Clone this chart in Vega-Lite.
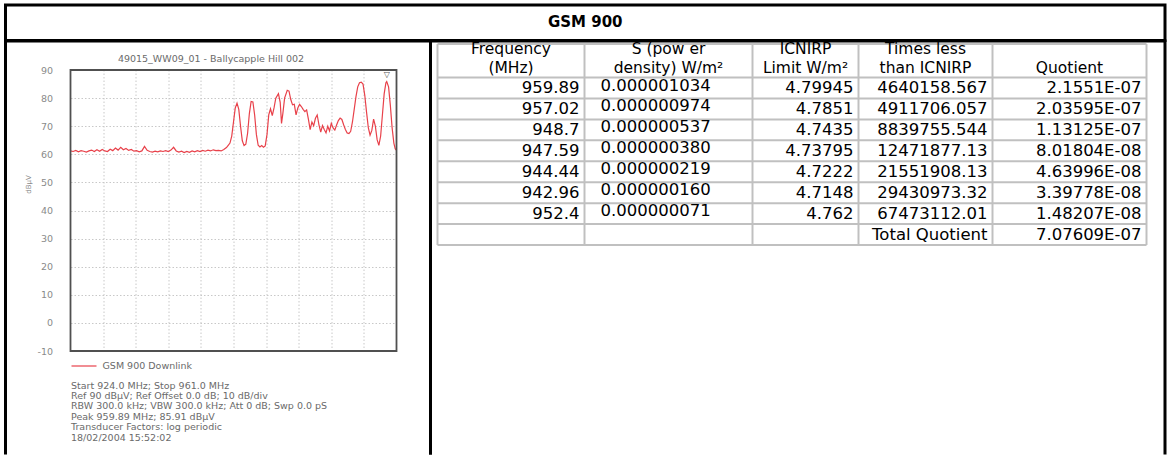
{
  "$schema": "https://vega.github.io/schema/vega-lite/v6.json",
  "padding": {"left": 3.5, "top": 3, "right": 3, "bottom": 0},
  "spacing": 0,
  "bounds": "flush",
  "config": {
    "font": "DejaVu Sans",
    "view": {"stroke": null},
    "text": {"font": "DejaVu Sans"}
  },
  "datasets": {
    "title": [{"label": "GSM 900"}],
    "trace": [
      {"freq": 924.0, "db": 61.2}, {"freq": 924.3, "db": 61.0}, {"freq": 924.6, "db": 61.4}, {"freq": 924.9, "db": 60.9},
      {"freq": 925.2, "db": 61.3}, {"freq": 925.5, "db": 61.1}, {"freq": 925.8, "db": 60.8}, {"freq": 926.1, "db": 61.2},
      {"freq": 926.4, "db": 61.5}, {"freq": 926.7, "db": 61.0}, {"freq": 927.0, "db": 61.6}, {"freq": 927.3, "db": 61.1},
      {"freq": 927.6, "db": 61.7}, {"freq": 927.9, "db": 61.2}, {"freq": 928.2, "db": 61.0}, {"freq": 928.5, "db": 61.8},
      {"freq": 928.8, "db": 61.3}, {"freq": 929.1, "db": 62.2}, {"freq": 929.4, "db": 61.5}, {"freq": 929.7, "db": 62.5},
      {"freq": 930.0, "db": 61.6}, {"freq": 930.3, "db": 62.1}, {"freq": 930.6, "db": 61.4}, {"freq": 930.9, "db": 61.7},
      {"freq": 931.2, "db": 61.1}, {"freq": 931.5, "db": 61.3}, {"freq": 931.8, "db": 60.9}, {"freq": 932.1, "db": 61.2},
      {"freq": 932.4, "db": 62.8}, {"freq": 932.7, "db": 61.4}, {"freq": 933.0, "db": 61.0}, {"freq": 933.3, "db": 60.8},
      {"freq": 933.6, "db": 61.1}, {"freq": 933.9, "db": 60.9}, {"freq": 934.2, "db": 61.2}, {"freq": 934.5, "db": 61.0},
      {"freq": 934.8, "db": 61.3}, {"freq": 935.1, "db": 61.0}, {"freq": 935.4, "db": 61.5}, {"freq": 935.7, "db": 62.5},
      {"freq": 936.0, "db": 61.2}, {"freq": 936.3, "db": 60.8}, {"freq": 936.6, "db": 61.1}, {"freq": 936.9, "db": 60.6},
      {"freq": 937.2, "db": 61.0}, {"freq": 937.5, "db": 60.7}, {"freq": 937.8, "db": 61.2}, {"freq": 938.1, "db": 60.9},
      {"freq": 938.4, "db": 61.3}, {"freq": 938.7, "db": 61.0}, {"freq": 939.0, "db": 61.4}, {"freq": 939.3, "db": 61.1},
      {"freq": 939.6, "db": 61.5}, {"freq": 939.9, "db": 61.2}, {"freq": 940.2, "db": 61.6}, {"freq": 940.5, "db": 61.3},
      {"freq": 940.8, "db": 61.4}, {"freq": 941.1, "db": 61.2}, {"freq": 941.4, "db": 61.7}, {"freq": 941.7, "db": 62.4},
      {"freq": 941.9, "db": 63.2}, {"freq": 942.1, "db": 64.0}, {"freq": 942.3, "db": 66.5}, {"freq": 942.5, "db": 71.5},
      {"freq": 942.7, "db": 76.5}, {"freq": 942.9, "db": 78.2}, {"freq": 943.1, "db": 76.0}, {"freq": 943.3, "db": 70.0},
      {"freq": 943.5, "db": 64.8}, {"freq": 943.7, "db": 63.1}, {"freq": 943.9, "db": 63.6}, {"freq": 944.1, "db": 67.5},
      {"freq": 944.3, "db": 74.5}, {"freq": 944.5, "db": 78.8}, {"freq": 944.7, "db": 78.6}, {"freq": 944.9, "db": 74.0},
      {"freq": 945.1, "db": 67.0}, {"freq": 945.3, "db": 63.2}, {"freq": 945.5, "db": 62.6}, {"freq": 945.7, "db": 63.1},
      {"freq": 945.9, "db": 62.5}, {"freq": 946.1, "db": 63.0}, {"freq": 946.3, "db": 67.0}, {"freq": 946.5, "db": 74.0},
      {"freq": 946.7, "db": 76.2}, {"freq": 946.9, "db": 73.8}, {"freq": 947.1, "db": 76.5}, {"freq": 947.3, "db": 80.0},
      {"freq": 947.6, "db": 81.6}, {"freq": 947.8, "db": 78.5}, {"freq": 947.95, "db": 71.0}, {"freq": 948.1, "db": 74.5},
      {"freq": 948.3, "db": 80.0}, {"freq": 948.6, "db": 82.8}, {"freq": 948.8, "db": 82.5}, {"freq": 949.0, "db": 79.5},
      {"freq": 949.2, "db": 77.6}, {"freq": 949.4, "db": 77.8}, {"freq": 949.6, "db": 74.0}, {"freq": 949.8, "db": 76.5},
      {"freq": 950.0, "db": 77.8}, {"freq": 950.2, "db": 77.0}, {"freq": 950.4, "db": 76.0}, {"freq": 950.6, "db": 75.2},
      {"freq": 950.8, "db": 75.8}, {"freq": 951.0, "db": 72.5}, {"freq": 951.2, "db": 68.8}, {"freq": 951.4, "db": 71.5},
      {"freq": 951.6, "db": 70.2}, {"freq": 951.8, "db": 72.8}, {"freq": 952.0, "db": 74.0}, {"freq": 952.2, "db": 70.5},
      {"freq": 952.4, "db": 67.9}, {"freq": 952.6, "db": 70.2}, {"freq": 952.8, "db": 68.8}, {"freq": 953.0, "db": 67.6},
      {"freq": 953.2, "db": 70.0}, {"freq": 953.4, "db": 68.3}, {"freq": 953.6, "db": 71.0}, {"freq": 953.8, "db": 69.4},
      {"freq": 954.0, "db": 68.6}, {"freq": 954.2, "db": 70.4}, {"freq": 954.4, "db": 72.0}, {"freq": 954.6, "db": 72.9},
      {"freq": 954.8, "db": 72.4}, {"freq": 955.0, "db": 70.5}, {"freq": 955.2, "db": 68.8}, {"freq": 955.4, "db": 67.6},
      {"freq": 955.6, "db": 67.4}, {"freq": 955.8, "db": 68.2}, {"freq": 956.0, "db": 71.5}, {"freq": 956.2, "db": 76.0},
      {"freq": 956.4, "db": 80.5}, {"freq": 956.6, "db": 84.0}, {"freq": 956.8, "db": 85.5}, {"freq": 957.0, "db": 85.7},
      {"freq": 957.2, "db": 85.0}, {"freq": 957.4, "db": 81.0}, {"freq": 957.6, "db": 75.0}, {"freq": 957.8, "db": 69.5},
      {"freq": 958.0, "db": 66.8}, {"freq": 958.2, "db": 68.5}, {"freq": 958.4, "db": 72.5}, {"freq": 958.6, "db": 70.0},
      {"freq": 958.8, "db": 65.2}, {"freq": 959.0, "db": 63.2}, {"freq": 959.2, "db": 66.5}, {"freq": 959.4, "db": 74.0},
      {"freq": 959.6, "db": 81.5}, {"freq": 959.8, "db": 85.5}, {"freq": 959.89, "db": 85.91}, {"freq": 960.1, "db": 84.0},
      {"freq": 960.3, "db": 77.5}, {"freq": 960.5, "db": 69.5}, {"freq": 960.7, "db": 64.0}, {"freq": 960.85, "db": 62.0},
      {"freq": 961.0, "db": 61.4}
    ],
    "peak": [{"freq": 959.89, "db": 85.91}],
    "head": [
      {"col": 1, "line": 1, "text": "Frequency"},
      {"col": 1, "line": 2, "text": "(MHz)"},
      {"col": 2, "line": 1, "text": "S (pow er"},
      {"col": 2, "line": 2, "text": "density) W/m²"},
      {"col": 3, "line": 1, "text": "ICNIRP"},
      {"col": 3, "line": 2, "text": "Limit W/m²"},
      {"col": 4, "line": 1, "text": "Times less"},
      {"col": 4, "line": 2, "text": "than ICNIRP"},
      {"col": 5, "line": 2, "text": "Quotient"}
    ],
    "table": [
      {"row": 1, "freq": "959.89", "s": "0.000001034", "limit": "4.79945", "times": "4640158.567", "quotient": "2.1551E-07"},
      {"row": 2, "freq": "957.02", "s": "0.000000974", "limit": "4.7851", "times": "4911706.057", "quotient": "2.03595E-07"},
      {"row": 3, "freq": "948.7", "s": "0.000000537", "limit": "4.7435", "times": "8839755.544", "quotient": "1.13125E-07"},
      {"row": 4, "freq": "947.59", "s": "0.000000380", "limit": "4.73795", "times": "12471877.13", "quotient": "8.01804E-08"},
      {"row": 5, "freq": "944.44", "s": "0.000000219", "limit": "4.7222", "times": "21551908.13", "quotient": "4.63996E-08"},
      {"row": 6, "freq": "942.96", "s": "0.000000160", "limit": "4.7148", "times": "29430973.32", "quotient": "3.39778E-08"},
      {"row": 7, "freq": "952.4", "s": "0.000000071", "limit": "4.762", "times": "67473112.01", "quotient": "1.48207E-08"},
      {"row": 8, "freq": "", "s": "", "limit": "", "times": "Total Quotient", "quotient": "7.07609E-07"}
    ]
  },
  "vconcat": [
    {
      "width": 1159.5,
      "height": 35.5,
      "view": {"stroke": "#000000", "strokeWidth": 3},
      "data": {"name": "title"},
      "mark": {"type": "text", "fontSize": 15, "fontWeight": "bold", "color": "#000000", "dy": -1},
      "encoding": {"text": {"field": "label", "type": "nominal"}}
    },
    {
      "hconcat": [
        {
          "width": 425,
          "height": 413.5,
          "view": {"stroke": "#000000", "strokeWidth": 3, "strokeDash": [838.5, 425, 430, 0]},
          "resolve": {"axis": {"x": "independent", "y": "independent"}},
          "layer": [
            {
              "data": {"name": "trace"},
              "mark": {"type": "line", "strokeWidth": 1.2},
              "encoding": {
                "x": {
                  "field": "freq", "type": "quantitative",
                  "scale": {"domain": [924, 961], "range": [65, 391], "nice": false, "zero": false},
                  "axis": {
                    "orient": "top", "offset": -29,
                    "values": [927.7, 931.4, 935.1, 938.8, 942.5, 946.2, 949.9, 953.6, 957.3],
                    "labels": false, "ticks": false, "domain": false,
                    "grid": true, "gridColor": "#c8c8c8", "gridDash": [1.5, 2], "gridWidth": 1,
                    "title": "49015_WW09_01 - Ballycapple Hill 002",
                    "titleFont": "DejaVu Sans", "titleFontSize": 9.5, "titleFontWeight": "normal", "titleColor": "#6a6a6a",
                    "titleX": 205, "titleY": -12, "titleAlign": "center", "titleBaseline": "middle", "titleAngle": 0
                  }
                },
                "y": {
                  "field": "db", "type": "quantitative",
                  "scale": {"domain": [-10, 90], "range": [310, 29], "nice": false, "zero": false},
                  "axis": {
                    "orient": "left", "offset": -65,
                    "values": [-10, 0, 10, 20, 30, 40, 50, 60, 70, 80, 90],
                    "labelExpr": "'' + datum.value",
                    "ticks": false, "domain": false, "labelOverlap": false,
                    "labelPadding": 18, "labelFont": "DejaVu Sans", "labelFontSize": 9.5, "labelColor": "#8a8a8a", "labelBaseline": "middle",
                    "grid": true, "gridColor": "#c8c8c8", "gridDash": [1.5, 2], "gridWidth": 1,
                    "title": "dBµV", "titleFont": "DejaVu Sans", "titleFontSize": 7, "titleFontWeight": "normal", "titleColor": "#8a8a8a",
                    "titleAngle": 270, "titleX": -42, "titleY": 143, "titleAlign": "center", "titleBaseline": "middle"
                  }
                },
                "color": {
                  "datum": "GSM 900 Downlink", "type": "nominal",
                  "scale": {"range": ["#e8414a"]},
                  "legend": {
                    "orient": "none", "legendX": 65, "legendY": 347.5, "title": null, "padding": 0,
                    "symbolType": "stroke", "symbolSize": 625, "symbolStrokeWidth": 1.2,
                    "labelFont": "DejaVu Sans", "labelFontSize": 9.5, "labelColor": "#6a6a6a", "labelOffset": 5
                  }
                }
              }
            },
            {
              "data": {"values": [{}]},
              "mark": {"type": "rect", "fillOpacity": 0, "stroke": "#505050", "strokeWidth": 1.8},
              "encoding": {
                "x": {
                  "datum": 924, "type": "quantitative",
                  "axis": {
                    "orient": "bottom", "offset": -68.5,
                    "labels": false, "ticks": false, "domain": false, "grid": false,
                    "title": [
                      "Start 924.0 MHz; Stop 961.0 MHz",
                      "Ref 90 dBµV; Ref Offset 0.0 dB; 10 dB/div",
                      "RBW 300.0 kHz; VBW 300.0 kHz; Att 0 dB; Swp 0.0 pS",
                      "Peak 959.89 MHz; 85.91 dBµV",
                      "Transducer Factors: log periodic",
                      "18/02/2004 15:52:02"
                    ],
                    "titleFont": "DejaVu Sans", "titleFontSize": 9.5, "titleFontWeight": "normal", "titleColor": "#6a6a6a",
                    "titleX": 65, "titleY": -6, "titleAlign": "left", "titleBaseline": "top", "titleLineHeight": 10.4, "titleAngle": 0
                  }
                },
                "x2": {"datum": 961},
                "y": {"datum": -10, "type": "quantitative", "axis": null},
                "y2": {"datum": 90}
              }
            },
            {
              "data": {"name": "peak"},
              "mark": {"type": "text", "fontSize": 8, "dy": -6, "color": "#555555"},
              "encoding": {
                "x": {"field": "freq", "type": "quantitative", "axis": null},
                "y": {"field": "db", "type": "quantitative", "axis": null},
                "text": {"value": "▽"}
              }
            }
          ]
        },
        {
          "width": 734.5,
          "height": 413.5,
          "view": {"stroke": "#000000", "strokeWidth": 3, "strokeDash": [1148, 734.5, 430, 0]},
          "layer": [
            {
              "layer": [
                {
                  "data": {"name": "table"},
                  "mark": {"type": "rule", "color": "#c0c0c0", "strokeWidth": 2},
                  "encoding": {
                    "y": {"field": "row", "type": "quantitative", "axis": null,
                      "scale": {"domain": [0, 1, 9], "range": [3, 36.5, 204], "nice": false, "zero": false}},
                    "x": {"datum": 0, "type": "quantitative", "axis": null,
                      "scale": {"domain": [0, 1, 2, 3, 4, 5], "range": [7, 154, 322, 428, 562, 716], "nice": false, "zero": false}},
                    "x2": {"datum": 5}
                  }
                },
                {
                  "data": {"values": [{}]},
                  "mark": {"type": "rule", "color": "#c0c0c0", "strokeWidth": 2},
                  "encoding": {
                    "y": {"datum": 0, "type": "quantitative", "axis": null},
                    "x": {"datum": 0, "type": "quantitative", "axis": null},
                    "x2": {"datum": 5}
                  }
                },
                {
                  "data": {"values": [{}]},
                  "mark": {"type": "rule", "color": "#c0c0c0", "strokeWidth": 2},
                  "encoding": {
                    "y": {"datum": 9, "type": "quantitative", "axis": null},
                    "x": {"datum": 0, "type": "quantitative", "axis": null},
                    "x2": {"datum": 5}
                  }
                },
                {
                  "data": {"name": "head"},
                  "transform": [{"filter": "datum.line == 2"}],
                  "mark": {"type": "rule", "color": "#c0c0c0", "strokeWidth": 2},
                  "encoding": {
                    "x": {"field": "col", "type": "quantitative", "axis": null},
                    "y": {"datum": 0, "type": "quantitative", "axis": null},
                    "y2": {"datum": 9}
                  }
                },
                {
                  "data": {"values": [{}]},
                  "mark": {"type": "rule", "color": "#c0c0c0", "strokeWidth": 2},
                  "encoding": {
                    "x": {"datum": 0, "type": "quantitative", "axis": null},
                    "y": {"datum": 0, "type": "quantitative", "axis": null},
                    "y2": {"datum": 9}
                  }
                },
                {
                  "data": {"name": "table"},
                  "mark": {"type": "text", "align": "right", "baseline": "middle", "fontSize": 16.5, "dx": -5, "dy": 10.5, "color": "#000000"},
                  "encoding": {
                    "x": {"datum": 1, "type": "quantitative", "axis": null},
                    "y": {"field": "row", "type": "quantitative", "axis": null},
                    "text": {"field": "freq", "type": "nominal"}
                  }
                },
                {
                  "data": {"name": "table"},
                  "mark": {"type": "text", "align": "left", "baseline": "middle", "fontSize": 16.5, "dx": 16, "dy": 8, "color": "#000000"},
                  "encoding": {
                    "x": {"datum": 1, "type": "quantitative", "axis": null},
                    "y": {"field": "row", "type": "quantitative", "axis": null},
                    "text": {"field": "s", "type": "nominal"}
                  }
                },
                {
                  "data": {"name": "table"},
                  "mark": {"type": "text", "align": "right", "baseline": "middle", "fontSize": 16.5, "dx": -5, "dy": 10.5, "color": "#000000"},
                  "encoding": {
                    "x": {"datum": 3, "type": "quantitative", "axis": null},
                    "y": {"field": "row", "type": "quantitative", "axis": null},
                    "text": {"field": "limit", "type": "nominal"}
                  }
                },
                {
                  "data": {"name": "table"},
                  "mark": {"type": "text", "align": "right", "baseline": "middle", "fontSize": 16.5, "dx": -5, "dy": 10.5, "color": "#000000"},
                  "encoding": {
                    "x": {"datum": 4, "type": "quantitative", "axis": null},
                    "y": {"field": "row", "type": "quantitative", "axis": null},
                    "text": {"field": "times", "type": "nominal"}
                  }
                },
                {
                  "data": {"name": "table"},
                  "mark": {"type": "text", "align": "right", "baseline": "middle", "fontSize": 16.5, "dx": -5, "dy": 10.5, "color": "#000000"},
                  "encoding": {
                    "x": {"datum": 5, "type": "quantitative", "axis": null},
                    "y": {"field": "row", "type": "quantitative", "axis": null},
                    "text": {"field": "quotient", "type": "nominal"}
                  }
                }
              ]
            },
            {
              "data": {"name": "head"},
              "mark": {"type": "text", "align": "center", "baseline": "middle", "fontSize": 15.5, "color": "#000000"},
              "encoding": {
                "x": {"field": "col", "type": "quantitative", "axis": null,
                  "scale": {"domain": [1, 2, 3, 4, 5], "range": [80.5, 238, 375, 495, 639], "nice": false, "zero": false}},
                "y": {"field": "line", "type": "quantitative", "axis": null,
                  "scale": {"domain": [1, 2], "range": [8, 26.5], "nice": false, "zero": false}},
                "text": {"field": "text", "type": "nominal"}
              }
            }
          ],
          "resolve": {"scale": {"x": "independent", "y": "independent"}}
        }
      ],
      "spacing": 0,
      "bounds": "flush"
    }
  ]
}
